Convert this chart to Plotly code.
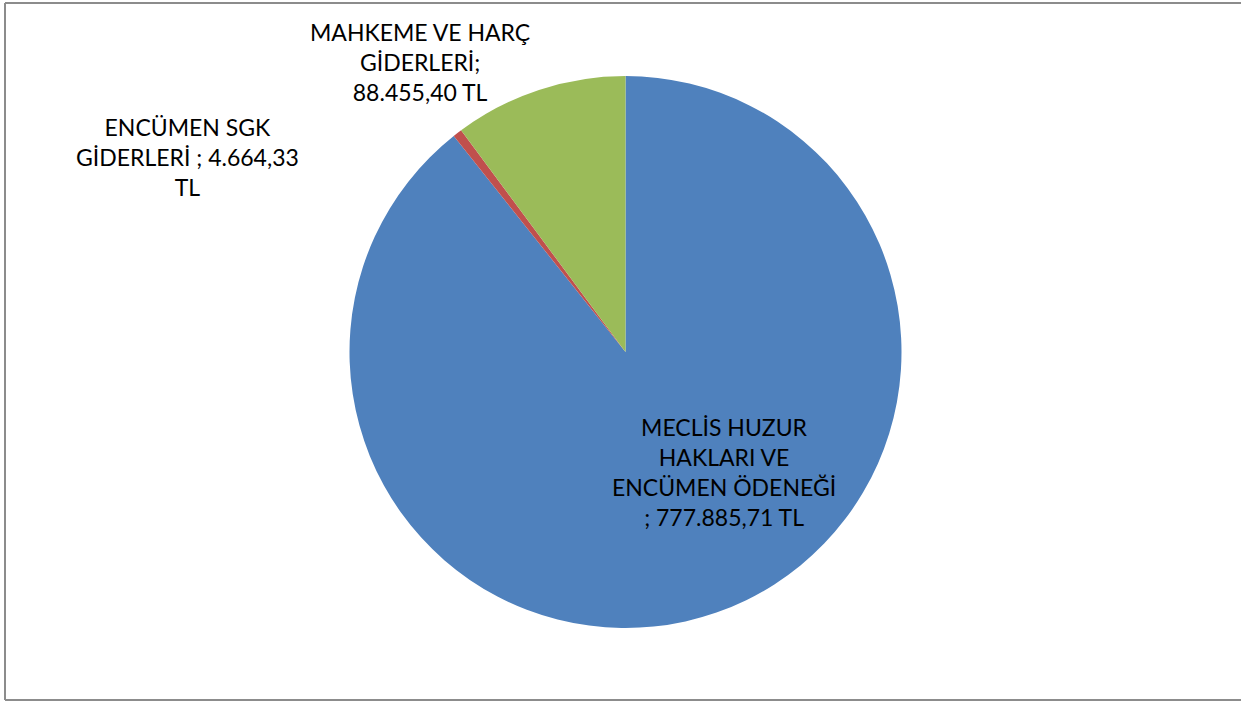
import plotly.graph_objects as go

labels = ["MECLİS HUZUR HAKLARI VE ENCÜMEN ÖDENEĞİ", "ENCÜMEN SGK GİDERLERİ", "MAHKEME VE HARÇ GİDERLERİ"]
values = [777885.71, 4664.33, 88455.40]
label_text = [
    "MECLİS HUZUR<br>HAKLARI VE<br>ENCÜMEN ÖDENEĞİ<br>; 777.885,71 TL",
    "ENCÜMEN SGK<br>GİDERLERİ ; 4.664,33<br>TL",
    "MAHKEME VE HARÇ<br>GİDERLERİ;<br>88.455,40 TL",
]
colors = ["#4F81BD", "#C0504D", "#9BBB59"]

W, H = 1241, 702

fig = go.Figure(go.Pie(
    labels=labels,
    values=values,
    sort=False,
    direction="clockwise",
    rotation=0,
    marker=dict(colors=colors, line=dict(width=0)),
    textinfo="none",
    hoverinfo="label+value",
    showlegend=False,
    domain=dict(x=[349 / W, 902 / W], y=[(H - 628) / H, (H - 76) / H]),
))

label_pos = [(724, 472), (187, 157), (420, 62)]
for txt, (px, py) in zip(label_text, label_pos):
    fig.add_annotation(
        text=txt, xref="paper", yref="paper",
        x=px / W, y=1 - py / H, xanchor="center", yanchor="middle",
        showarrow=False, align="center",
        font=dict(family="Lato", size=23, color="black"),
    )

xl, yt, yb = 5 / W, 1 - 3 / H, 1 - 700 / H
border = dict(color="#8c8c8c", width=2)
for x0, y0, x1, y1 in [(xl, yt, 1.0, yt), (xl, yb, 1.0, yb), (xl, yb, xl, yt)]:
    fig.add_shape(type="line", xref="paper", yref="paper",
                  x0=x0, y0=y0, x1=x1, y1=y1, line=border)

fig.update_layout(
    width=W, height=H,
    margin=dict(l=0, r=0, t=0, b=0),
    paper_bgcolor="white", plot_bgcolor="white",
)

fig.write_html("out.html", config={"displayModeBar": False},
               post_script="document.body.style.margin='0';")
